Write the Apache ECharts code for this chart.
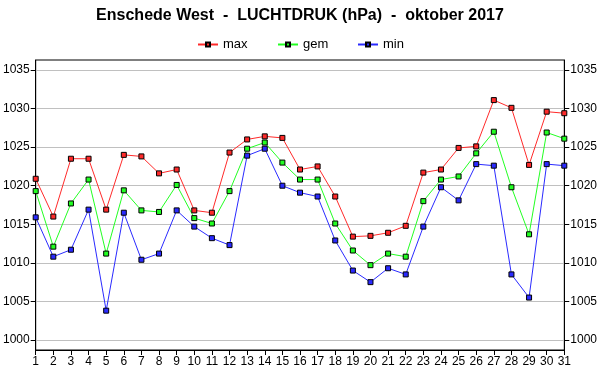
<!DOCTYPE html>
<html><head><meta charset="utf-8">
<script src="https://cdn.jsdelivr.net/npm/echarts@6/dist/echarts.min.js"></script>
<style>html,body{margin:0;padding:0;background:#fff}#c{width:600px;height:390px}</style>
</head><body><div id="c"></div>
<script>
const days = Array.from({length:31},(_,i)=>String(i+1));
const maxVals = [1020.9,1016.0,1023.5,1023.5,1016.9,1024.0,1023.8,1021.6,1022.1,1016.8,1016.5,1024.3,1026.0,1026.4,1026.2,1022.1,1022.5,1018.6,1013.4,1013.5,1013.9,1014.8,1021.7,1022.1,1024.9,1025.1,1031.1,1030.1,1022.7,1029.6,1029.4];
const gemVals = [1019.3,1012.1,1017.7,1020.8,1011.2,1019.4,1016.8,1016.6,1020.1,1015.8,1015.1,1019.3,1024.8,1025.6,1023.0,1020.8,1020.8,1015.1,1011.6,1009.7,1011.2,1010.8,1018.0,1020.8,1021.2,1024.2,1027.0,1019.8,1013.7,1026.9,1026.1];
const minVals = [1015.9,1010.8,1011.7,1016.9,1003.8,1016.5,1010.4,1011.2,1016.8,1014.7,1013.2,1012.3,1023.9,1024.8,1020.0,1019.1,1018.6,1012.9,1009.0,1007.5,1009.3,1008.5,1014.7,1019.8,1018.1,1022.8,1022.6,1008.5,1005.5,1022.8,1022.6];
const yTicks = [1000,1005,1010,1015,1020,1025,1030,1035];
const names = ['max','gem','min'];
const colors = ['#ff2a2a','#22ff22','#2a2aff'];

const chart = echarts.init(document.getElementById('c'));
const font = 'Arial, "Liberation Sans", sans-serif';
function yAxisDef(pos){
  return {
    type:'value', position:pos, min:998.7, max:1036.3,
    axisLine:{show:true,lineStyle:{color:'#000',width:1}},
    axisTick:{show:true,inside:false,length:5,lineStyle:{color:'#000'},customValues:yTicks},
    axisLabel:{color:'#000',fontSize:12,fontFamily:font,margin:6,customValues:yTicks,formatter:v=>String(v)},
    splitLine:{show:pos==='left',lineStyle:{color:'#c0c0c0',width:1},customValues:yTicks}
  };
}
function ser(name,data,color){
  return {name,type:'line',data,symbol:'rect',symbolSize:5,showSymbol:true,
    lineStyle:{color,width:1},itemStyle:{color,borderColor:'#000',borderWidth:1},
    emphasis:{disabled:true},animation:false};
}
const legendLefts = [197,277,357];
chart.setOption({
  backgroundColor:'#fff',
  animation:false,
  title:{text:'Enschede West  -  LUCHTDRUK (hPa)  -  oktober 2017',left:'center',top:3,
    textStyle:{fontSize:16,fontWeight:'bold',color:'#000',fontFamily:font}},
  legend:names.map((n,i)=>({top:38,left:legendLefts[i],padding:0,itemWidth:20,itemHeight:5,
    textStyle:{fontSize:13,color:'#000',fontFamily:font},data:[n]})),
  grid:{left:35,right:35,top:60,bottom:40,show:true,borderColor:'#000',borderWidth:1,containLabel:false},
  xAxis:{type:'category',data:days,boundaryGap:false,
    axisLine:{lineStyle:{color:'#000'}},
    axisTick:{show:true,length:5,interval:0,lineStyle:{color:'#000'}},
    axisLabel:{color:'#000',fontSize:12,fontFamily:font,interval:0,margin:6},
    splitLine:{show:false}},
  yAxis:[yAxisDef('left'),yAxisDef('right')],
  series:names.map((n,i)=>ser(n,[maxVals,gemVals,minVals][i],colors[i]))
});
</script></body></html>
